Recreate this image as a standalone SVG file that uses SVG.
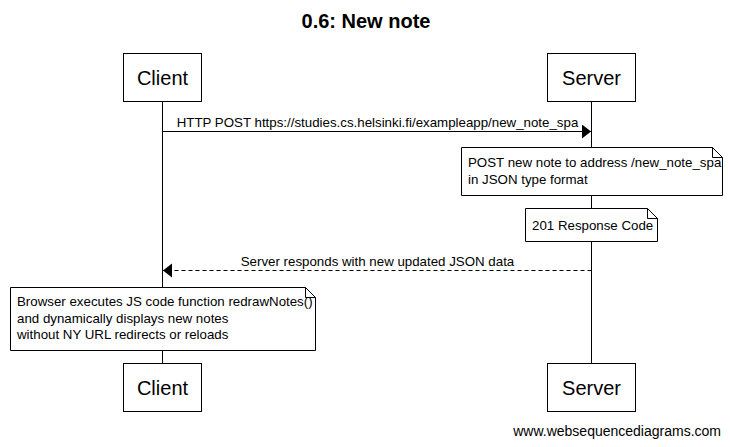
<svg xmlns="http://www.w3.org/2000/svg" width="730" height="447" viewBox="0 0 730 447">
<style>
text{font-family:"Liberation Sans",Arial,sans-serif;fill:#000}
.title{font-size:20px;font-weight:bold}
.part{font-size:20px}
.lbl{font-size:13.3px}
.wm{font-size:14px}
.box{fill:#fff;stroke:#000;stroke-width:1}
.life{stroke:#000;stroke-width:1;fill:none}
.msg{stroke:#000;stroke-width:1;fill:none}
.dash{stroke-dasharray:4,3}
.note{fill:#fff;stroke:#000;stroke-width:1}
.fold{fill:none;stroke:#000;stroke-width:1}
</style>
<defs>
<marker id="ah" markerWidth="10" markerHeight="15" refX="9" refY="7" orient="auto" markerUnits="userSpaceOnUse">
<path d="M0,0 L9,7 L0,14 Z" fill="#000"/>
</marker>
</defs>
<rect width="730" height="447" fill="#fff"/>
<text class="title" x="366" y="28" text-anchor="middle">0.6: New note</text>
<g id="lifelines">
<line class="life" x1="162.5" y1="102" x2="162.5" y2="363"/>
<line class="life" x1="591.5" y1="102" x2="591.5" y2="363"/>
</g>
<g id="client-top">
<rect class="box" x="123.5" y="53.5" width="78" height="48"/>
<text class="part" x="162.5" y="85" text-anchor="middle">Client</text>
</g>
<g id="server-top">
<rect class="box" x="547.5" y="53.5" width="88" height="48"/>
<text class="part" x="591.5" y="85" text-anchor="middle">Server</text>
</g>
<g id="connectors">
<line class="msg" x1="162.5" y1="131.5" x2="591" y2="131.5" marker-end="url(#ah)"/>
<text class="lbl" x="377.5" y="127" text-anchor="middle">HTTP POST https://studies.cs.helsinki.fi/exampleapp/new_note_spa</text>
<line class="msg dash" x1="591.5" y1="270.5" x2="163" y2="270.5" marker-end="url(#ah)"/>
<text class="lbl" x="377.5" y="266" text-anchor="middle">Server responds with new updated JSON data</text>
</g>
<g id="note-post">
<path class="note" d="M461.5,147.5 H712.5 L722.5,157.5 V195.5 H461.5 Z"/>
<path class="fold" d="M712.5,147.5 V157.5 H722.5"/>
<text class="lbl" x="468" y="167">POST new note to address /new_note_spa</text>
<text class="lbl" x="468" y="184">in JSON type format</text>
</g>
<g id="note-201">
<path class="note" d="M525.5,208.5 H647.5 L657.5,218.5 V241.5 H525.5 Z"/>
<path class="fold" d="M647.5,208.5 V218.5 H657.5"/>
<text class="lbl" x="532" y="230">201 Response Code</text>
</g>
<g id="note-browser">
<path class="note" d="M10.5,287.5 H305.5 L315.5,297.5 V350.5 H10.5 Z"/>
<path class="fold" d="M305.5,287.5 V297.5 H315.5"/>
<text class="lbl" x="17" y="306">Browser executes JS code function redrawNotes()</text>
<text class="lbl" x="17" y="323">and dynamically displays new notes</text>
<text class="lbl" x="17" y="339">without NY URL redirects or reloads</text>
</g>
<g id="client-bottom">
<rect class="box" x="123.5" y="363.5" width="78" height="48"/>
<text class="part" x="162.5" y="395" text-anchor="middle">Client</text>
</g>
<g id="server-bottom">
<rect class="box" x="547.5" y="363.5" width="88" height="48"/>
<text class="part" x="591.5" y="395" text-anchor="middle">Server</text>
</g>
<text class="wm" x="721" y="436" text-anchor="end">www.websequencediagrams.com</text>
</svg>
